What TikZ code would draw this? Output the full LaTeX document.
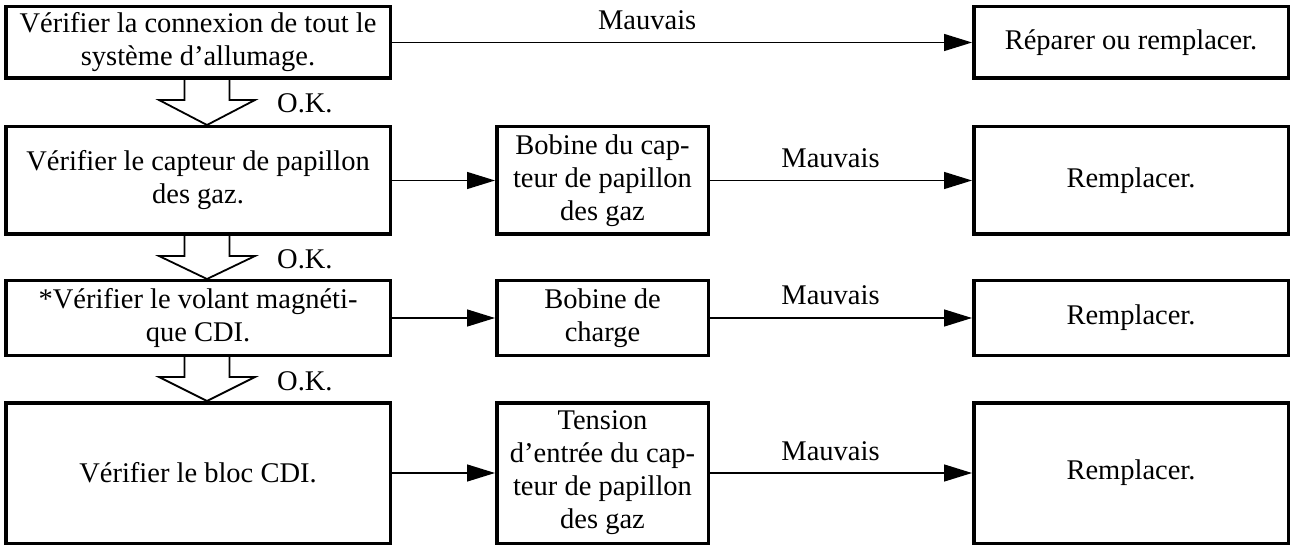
\documentclass[tikz,border=0pt]{standalone}
\usepackage{fontspec}
\setmainfont{Liberation Serif}
\usepackage{tikz}
\usetikzlibrary{
  arrows.meta,
  positioning
}

\begin{document}
\begin{tikzpicture}[
      x=1pt, y=-1pt,
      >={Triangle[length=28pt,width=17pt]},
      font=\fontsize{28.5}{33}\selectfont,
      chkbox/.style={
        rectangle, draw, line width=3.5pt,
        align=center, inner sep=3pt,
        minimum width=384.5pt, minimum height=#1
      },
      partbox/.style={
        rectangle, draw, line width=3.5pt,
        align=center, inner sep=3pt,
        minimum width=211.5pt, minimum height=#1
      },
      fixbox/.style={
        rectangle, draw, line width=3.5pt,
        align=center, inner sep=3pt,
        minimum width=314.5pt, minimum height=#1
      },
      badarr/.style={->, line width=1.4pt},
      badlbl/.style={anchor=base, yshift=13pt, inner sep=0pt, pos=0.46},
      okarr/.style={line width=1.8pt},
      oklbl/.style={anchor=base west, inner sep=0pt}
    ]
    \useasboundingbox (0,0) rectangle (1290,545);

    % Left column: checks
    \node[chkbox=71.5pt]  (conn) at (198, 42.5)
      {Vérifier la connexion de tout le\\système d’allumage.};
    \node[chkbox=107.5pt] (tps)  at (198, 180.5)
      {Vérifier le capteur de papillon\\des gaz.};
    \node[chkbox=74.5pt]  (mag)  at (198, 318)
      {*Vérifier le volant magnéti-\\que CDI.};
    \node[chkbox=140.5pt] (cdi)  at (198, 473)
      {Vérifier le bloc CDI.};

    % Middle column: parts to test
    \node[partbox=107.5pt, right=103pt of tps] (coil)
      {Bobine du cap-\\teur de papillon\\des gaz};
    \node[partbox=74.5pt, right=103pt of mag] (chg)
      {Bobine de\\charge};
    \node[partbox=140.5pt, right=103pt of cdi] (volt)
      {Tension\\d’entrée du cap-\\teur de papillon\\des gaz};

    % Right column: repairs
    \node[fixbox=71.5pt, right=580pt of conn] (fix1) {Réparer ou remplacer.};
    \node[fixbox=107.5pt, right=262pt of coil] (fix2) {Remplacer.};
    \node[fixbox=74.5pt, right=262pt of chg]   (fix3) {Remplacer.};
    \node[fixbox=140.5pt, right=262pt of volt] (fix4) {Remplacer.};

    % Arrows
    \draw[badarr] (conn.east) -- node[badlbl, pos=0.44]{Mauvais} (fix1.west);
    \draw[badarr] (tps.east)  -- (coil.west);
    \draw[badarr] (coil.east) -- node[badlbl]{Mauvais} (fix2.west);
    \draw[badarr] (mag.east)  -- (chg.west);
    \draw[badarr] (chg.east)  -- node[badlbl]{Mauvais} (fix3.west);
    \draw[badarr] (cdi.east)  -- (volt.west);
    \draw[badarr] (volt.east) -- node[badlbl]{Mauvais} (fix4.west);

    % Hollow O.K. arrows between the checks
    \foreach \src/\dst in {conn/tps, tps/mag, mag/cdi} {
      \draw[okarr] ([xshift=-13.5pt]\src.south)
        -- ([xshift=-13.5pt, yshift=-20pt]\src.south)
        -- ([xshift=-39pt, yshift=-20pt]\src.south)
        -- ([xshift=9pt]\dst.north)
        -- ([xshift=57pt, yshift=-20pt]\src.south)
        -- ([xshift=31.5pt, yshift=-20pt]\src.south)
        -- ([xshift=31.5pt]\src.south);
      \node[oklbl] at ([xshift=79pt, yshift=-33pt]\src.south) {O.K.};
    }
  \end{tikzpicture}
\end{document}
